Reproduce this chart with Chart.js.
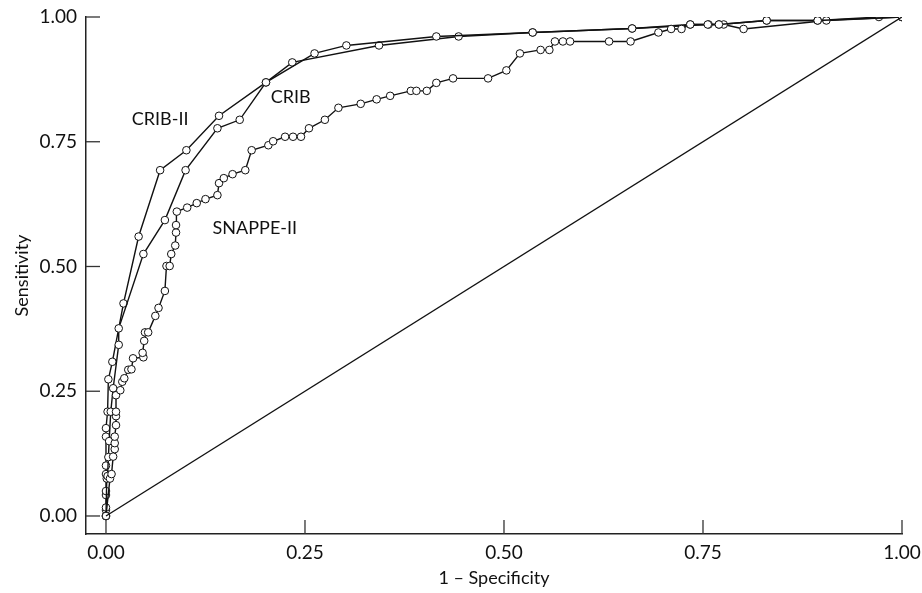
<!DOCTYPE html>
<html>
<head>
<meta charset="utf-8">
<script src="https://cdn.jsdelivr.net/npm/chart.js@4"></script>
<style>
  html, body { margin: 0; padding: 0; background: #fff; }
  #wrap { width: 922px; height: 593px; }
</style>
</head>
<body>
<div id="wrap"><canvas id="roc"></canvas></div>
<script>
// 1 - specificity / sensitivity pairs
const cribIIx = [0, 0, 0, 0, 0, 0, 0, 0, 0, 0.002, 0.003, 0.008, 0.022, 0.041, 0.068, 0.101, 0.142, 0.201, 0.234, 0.343, 0.443, 0.536, 0.661, 0.734, 0.770, 0.830, 0.894, 0.971, 1];
const cribIIy = [0, 0.012, 0.017, 0.042, 0.05, 0.084, 0.101, 0.159, 0.176, 0.209, 0.274, 0.309, 0.426, 0.560, 0.693, 0.733, 0.802, 0.869, 0.909, 0.943, 0.961, 0.969, 0.977, 0.985, 0.985, 0.993, 0.993, 1, 1];

const cribX = [0, 0.001, 0.002, 0.003, 0.004, 0.006, 0.009, 0.016, 0.016, 0.047, 0.074, 0.100, 0.140, 0.168, 0.201, 0.262, 0.302, 0.415, 0.536, 0.661, 0.757, 0.776, 0.801, 0.905, 1];
const cribY = [0, 0.075, 0.08, 0.118, 0.15, 0.209, 0.256, 0.343, 0.376, 0.525, 0.593, 0.693, 0.777, 0.794, 0.869, 0.927, 0.943, 0.961, 0.969, 0.977, 0.985, 0.985, 0.976, 0.993, 1];

const snappeX = [0, 0.005, 0.007, 0.009, 0.011, 0.011, 0.011, 0.0126, 0.0126, 0.0126, 0.0126, 0.018, 0.0205, 0.023, 0.028, 0.032, 0.034, 0.047, 0.046, 0.048, 0.049, 0.053, 0.062, 0.066, 0.074, 0.076, 0.080, 0.082, 0.087, 0.088, 0.088, 0.089, 0.102, 0.114, 0.125, 0.140, 0.142, 0.148, 0.159, 0.175, 0.183, 0.204, 0.210, 0.225, 0.235, 0.245, 0.255, 0.275, 0.292, 0.320, 0.340, 0.357, 0.383, 0.390, 0.403, 0.415, 0.436, 0.480, 0.503, 0.520, 0.546, 0.557, 0.564, 0.574, 0.583, 0.632, 0.659, 0.694, 0.710, 0.723, 0.734, 0.756, 0.770, 0.830, 0.894, 1];
const snappeY = [0, 0.075, 0.084, 0.119, 0.134, 0.146, 0.159, 0.182, 0.200, 0.209, 0.242, 0.252, 0.269, 0.276, 0.293, 0.294, 0.316, 0.318, 0.327, 0.351, 0.368, 0.368, 0.401, 0.417, 0.451, 0.501, 0.501, 0.525, 0.542, 0.568, 0.583, 0.610, 0.618, 0.627, 0.635, 0.643, 0.667, 0.677, 0.685, 0.693, 0.733, 0.743, 0.751, 0.760, 0.760, 0.760, 0.777, 0.794, 0.818, 0.826, 0.835, 0.842, 0.852, 0.852, 0.852, 0.868, 0.877, 0.877, 0.893, 0.927, 0.934, 0.934, 0.951, 0.951, 0.951, 0.951, 0.951, 0.969, 0.976, 0.976, 0.985, 0.985, 0.985, 0.993, 0.993, 1];

const refX = [0, 1];
const refY = [0, 1];

const tickValues = [0, 0.25, 0.5, 0.75, 1];
const curveLabels = [
    { text: 'CRIB-II', x: 0.068, y: 0.796 },
    { text: 'CRIB', x: 0.232, y: 0.840 },
    { text: 'SNAPPE-II', x: 0.187, y: 0.577 }
];

const FONT = 'Lato, "Liberation Sans", sans-serif';
const INK = '#111';

function toPoints(xs, ys) {
    return xs.map((x, i) => ({ x: x, y: ys[i] }));
}

function curve(label, xs, ys) {
    return {
        label: label,
        data: toPoints(xs, ys),
        showLine: true,
        borderColor: INK,
        borderWidth: 1.4,
        pointRadius: 3.8,
        pointBackgroundColor: '#fff',
        pointBorderColor: INK,
        pointBorderWidth: 1
    };
}

// inward tick marks + curve names
const decorations = {
    id: 'decorations',
    afterDatasetsDraw(chart) {
        const ctx = chart.ctx;
        const xs = chart.scales.x;
        const ys = chart.scales.y;
        const area = chart.chartArea;
        ctx.save();
        ctx.strokeStyle = '#333';
        ctx.lineWidth = 1.3;
        tickValues.forEach(v => {
            const px = xs.getPixelForValue(v);
            ctx.beginPath();
            ctx.moveTo(px, area.bottom);
            ctx.lineTo(px, area.bottom - 14);
            ctx.stroke();
            const py = ys.getPixelForValue(v);
            ctx.beginPath();
            ctx.moveTo(area.left, py);
            ctx.lineTo(area.left + 14, py);
            ctx.stroke();
        });
        ctx.fillStyle = INK;
        ctx.font = '18px ' + FONT;
        ctx.textAlign = 'center';
        ctx.textBaseline = 'middle';
        curveLabels.forEach(l => {
            ctx.fillText(l.text, xs.getPixelForValue(l.x), ys.getPixelForValue(l.y));
        });
        ctx.restore();
    }
};

new Chart(document.getElementById('roc').getContext('2d'), {
    type: 'scatter',
    data: {
        datasets: [
            {
                label: 'Reference',
                data: toPoints(refX, refY),
                showLine: true,
                borderColor: INK,
                borderWidth: 1.4,
                pointRadius: 0
            },
            curve('SNAPPE-II', snappeX, snappeY),
            curve('CRIB', cribX, cribY),
            curve('CRIB-II', cribIIx, cribIIy)
        ]
    },
    options: {
        responsive: true,
        maintainAspectRatio: false,
        animation: false,
        layout: { padding: { top: 17, right: 20, left: 0, bottom: 0 } },
        plugins: {
            legend: { display: false },
            tooltip: { enabled: false }
        },
        scales: {
            x: {
                type: 'linear',
                min: -0.0251,
                max: 1,
                afterBuildTicks: scale => { scale.ticks = tickValues.map(v => ({ value: v })); },
                afterFit: scale => {
                    scale.height = 59;
                    scale.paddingLeft = 0;
                    scale.paddingRight = 0;
                },
                grid: { display: true, drawOnChartArea: false, drawTicks: false },
                border: { display: true, color: '#222', width: 1.5 },
                ticks: {
                    padding: 7,
                    color: INK,
                    font: { family: FONT, size: 19 },
                    maxRotation: 0,
                    callback: v => v.toFixed(2)
                },
                title: {
                    display: true,
                    text: '1 \u2013 Specificity',
                    color: INK,
                    font: { family: FONT, size: 18 },
                    padding: { top: 4, bottom: 4 }
                }
            },
            y: {
                type: 'linear',
                min: -0.0361,
                max: 1,
                afterBuildTicks: scale => { scale.ticks = tickValues.map(v => ({ value: v })); },
                afterFit: scale => {
                    scale.width = 86;
                    scale.paddingTop = 0;
                    scale.paddingBottom = 0;
                },
                grid: { display: true, drawOnChartArea: false, drawTicks: false },
                border: { display: true, color: '#222', width: 1.5 },
                ticks: {
                    padding: 9,
                    color: INK,
                    font: { family: FONT, size: 19 },
                    callback: v => v.toFixed(2)
                },
                title: {
                    display: true,
                    text: 'Sensitivity',
                    color: INK,
                    font: { family: FONT, size: 18 },
                    padding: { top: 11, bottom: 0 }
                }
            }
        }
    },
    plugins: [decorations]
});
</script>
</body>
</html>
